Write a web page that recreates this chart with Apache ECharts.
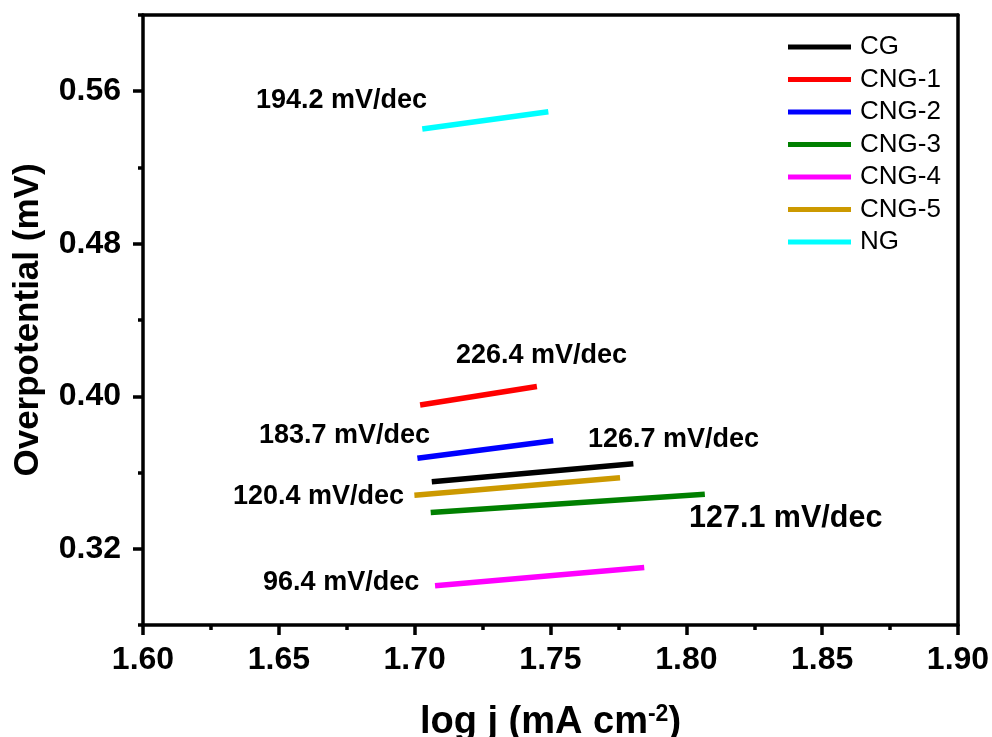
<!DOCTYPE html>
<html>
<head>
<meta charset="utf-8">
<title>Tafel plots</title>
<script src="https://cdn.jsdelivr.net/npm/echarts@6/dist/echarts.min.js"></script>
<style>
  html, body { margin: 0; padding: 0; background: #fff; }
  #chart { width: 992px; height: 737px; }
</style>
</head>
<body>
<div id="chart"></div>
<script>
// Tafel fit segments: log j (x) against overpotential (y), start and end of each fit
const seriesNames = ['CG', 'CNG-1', 'CNG-2', 'CNG-3', 'CNG-4', 'CNG-5', 'NG'];
const logJStart   = [1.7063, 1.7020, 1.7010, 1.7059, 1.7075, 1.6999, 1.7028];
const logJEnd     = [1.7805, 1.7450, 1.7510, 1.8068, 1.7845, 1.7756, 1.7492];
const etaStart    = [0.3552, 0.3954, 0.3675, 0.3390, 0.3006, 0.3481, 0.5402];
const etaEnd      = [0.3646, 0.4051, 0.3767, 0.3486, 0.3102, 0.3572, 0.5492];
const seriesColors = ['#000000', '#ff0000', '#0000ff', '#008000', '#ff00ff', '#cc9900', '#00ffff'];

// Tafel slope annotations (mV/dec), in the order they are written on the plot
const tafelSlopes = [194.2, 226.4, 183.7, 126.7, 120.4, 127.1, 96.4];

// Axis ticks
const xTicks = [1.60, 1.65, 1.70, 1.75, 1.80, 1.85, 1.90];
const yMajorTicks = [0.32, 0.40, 0.48, 0.56];
const yMinorTicks = [0.28, 0.36, 0.44, 0.52, 0.60];

// Where each slope annotation sits (left edge, vertical centre) in axis units
const annotationAnchors = [
  [1.6416, 0.5553],
  [1.7152, 0.4211],
  [1.6427, 0.3792],
  [1.7638, 0.3771],
  [1.6331, 0.3472],
  [1.8010, 0.3357],
  [1.6442, 0.3021]
];
const annotationSizes = [27, 27, 27, 27, 27, 30.5, 27];

const FONT = '"Liberation Sans", Arial, Helvetica, sans-serif';
const AXIS_COLOR = '#000';
const AXIS_WIDTH = 3.5;

const lineSeries = seriesNames.map((name, i) => ({
  name: name,
  type: 'line',
  xAxisIndex: 0,
  yAxisIndex: 0,
  showSymbol: false,
  symbol: 'none',
  silent: true,
  color: seriesColors[i],
  lineStyle: { color: seriesColors[i], width: 5.5, cap: 'butt' },
  data: [[logJStart[i], etaStart[i]], [logJEnd[i], etaEnd[i]]]
}));

const annotationSeries = {
  name: 'slopes',
  type: 'scatter',
  xAxisIndex: 0,
  yAxisIndex: 0,
  symbolSize: 0,
  silent: true,
  z: 5,
  itemStyle: { opacity: 1 },
  data: tafelSlopes.map((s, i) => ({
    value: annotationAnchors[i],
    label: {
      show: true,
      position: 'right',
      distance: 0,
      formatter: s.toFixed(1) + ' mV/dec',
      fontFamily: FONT,
      fontWeight: 'bold',
      fontSize: annotationSizes[i],
      color: '#000',
      opacity: 1
    }
  }))
};

const chart = echarts.init(document.getElementById('chart'), null, { renderer: 'canvas' });

chart.setOption({
  animation: false,
  backgroundColor: '#fff',
  grid: { left: 143, right: 34, top: 15, bottom: 112, containLabel: false, outerBoundsMode: 'none' },
  legend: {
    data: seriesNames,
    orient: 'vertical',
    left: 788,
    top: 34,
    padding: 0,
    icon: 'rect',
    itemWidth: 63,
    itemHeight: 5,
    itemGap: 6.5,
    selectedMode: false,
    textStyle: {
      fontFamily: FONT,
      fontSize: 26,
      lineHeight: 26,
      color: '#000',
      padding: [0, 0, 0, 4]
    }
  },
  xAxis: [
    {
      type: 'value',
      position: 'bottom',
      min: xTicks[0],
      max: xTicks[xTicks.length - 1],
      interval: 0.05,
      axisLine: { show: true, onZero: false, lineStyle: { color: AXIS_COLOR, width: AXIS_WIDTH } },
      axisTick: { show: true, inside: false, length: 10, lineStyle: { color: AXIS_COLOR, width: AXIS_WIDTH } },
      minorTick: { show: true, splitNumber: 2, length: 5, lineStyle: { color: AXIS_COLOR, width: AXIS_WIDTH } },
      splitLine: { show: false },
      axisLabel: {
        margin: 19,
        fontFamily: FONT,
        fontWeight: 'bold',
        fontSize: 32,
        color: '#000',
        formatter: v => v.toFixed(2)
      },
      name: 'log j (mA cm{sup|-2})',
      nameLocation: 'middle',
      nameGap: 78,
      nameTextStyle: {
        fontFamily: FONT,
        fontWeight: 'bold',
        fontSize: 38,
        color: '#000',
        rich: {
          sup: {
            fontFamily: FONT,
            fontWeight: 'bold',
            fontSize: 23,
            color: '#000',
            verticalAlign: 'top',
            padding: [0, 0, 16, 0]
          }
        }
      }
    },
    {
      type: 'value',
      position: 'top',
      min: xTicks[0],
      max: xTicks[xTicks.length - 1],
      axisLine: { show: true, onZero: false, lineStyle: { color: AXIS_COLOR, width: AXIS_WIDTH } },
      axisTick: { show: false },
      axisLabel: { show: false },
      splitLine: { show: false }
    }
  ],
  yAxis: [
    {
      type: 'value',
      position: 'left',
      min: yMinorTicks[0],
      max: yMinorTicks[yMinorTicks.length - 1],
      axisLine: { show: true, onZero: false, lineStyle: { color: AXIS_COLOR, width: AXIS_WIDTH } },
      axisTick: { show: true, inside: false, length: 10, customValues: yMajorTicks,
                  lineStyle: { color: AXIS_COLOR, width: AXIS_WIDTH } },
      splitLine: { show: false },
      axisLabel: {
        customValues: yMajorTicks,
        margin: 22,
        fontFamily: FONT,
        fontWeight: 'bold',
        fontSize: 32,
        color: '#000',
        formatter: v => v.toFixed(2)
      },
      name: 'Overpotential (mV)',
      nameLocation: 'middle',
      nameGap: 97,
      nameTextStyle: { fontFamily: FONT, fontWeight: 'bold', fontSize: 35, color: '#000' }
    },
    {
      type: 'value',
      position: 'left',
      min: yMinorTicks[0],
      max: yMinorTicks[yMinorTicks.length - 1],
      axisLine: { show: false, onZero: false },
      axisTick: { show: true, inside: false, length: 5, customValues: yMinorTicks,
                  lineStyle: { color: AXIS_COLOR, width: AXIS_WIDTH } },
      axisLabel: { show: false },
      splitLine: { show: false }
    },
    {
      type: 'value',
      position: 'right',
      min: yMinorTicks[0],
      max: yMinorTicks[yMinorTicks.length - 1],
      axisLine: { show: true, onZero: false, lineStyle: { color: AXIS_COLOR, width: AXIS_WIDTH } },
      axisTick: { show: false },
      axisLabel: { show: false },
      splitLine: { show: false }
    }
  ],
  series: lineSeries.concat([annotationSeries])
});
</script>
</body>
</html>
